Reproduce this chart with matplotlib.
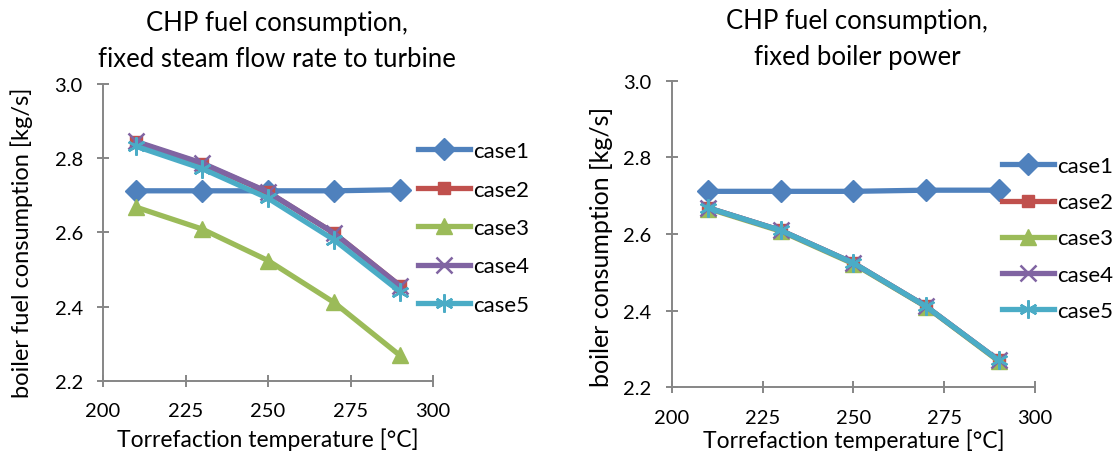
import matplotlib
matplotlib.use("Agg")
import matplotlib.pyplot as plt

plt.rcParams['font.family'] = ['Lato', 'DejaVu Sans']

temps = [210, 230, 250, 270, 290]
case_names = ["case1", "case2", "case3", "case4", "case5"]

left_values = {
    "case1": [2.712, 2.712, 2.712, 2.712, 2.715],
    "case2": [2.843, 2.785, 2.708, 2.598, 2.456],
    "case3": [2.668, 2.609, 2.524, 2.411, 2.268],
    "case4": [2.845, 2.787, 2.709, 2.598, 2.456],
    "case5": [2.832, 2.772, 2.692, 2.580, 2.440],
}
right_values = {
    "case1": [2.711, 2.711, 2.711, 2.714, 2.714],
    "case2": [2.668, 2.609, 2.524, 2.411, 2.270],
    "case3": [2.666, 2.607, 2.522, 2.410, 2.268],
    "case4": [2.668, 2.609, 2.524, 2.411, 2.270],
    "case5": [2.668, 2.609, 2.524, 2.411, 2.270],
}
titles = ["CHP fuel consumption,\nfixed steam flow rate to turbine",
          "CHP fuel consumption,\nfixed boiler power"]
ylabels = ["boiler fuel consumption [kg/s]", "boiler consumption [kg/s]"]
xlabel = "Torrefaction temperature [°C]"
xticks = [200, 225, 250, 275, 300]
yticks = [2.2, 2.4, 2.6, 2.8, 3.0]

colors = ["#4F81BD", "#C0504D", "#9BBB59", "#8064A2", "#4BACC6"]
markers = ["D", "s", "^", "x", (6, 2, 0)]
msizes = [11, 8.5, 12, 11, 13]

W, H = 1118, 452
fig = plt.figure(figsize=(W / 100, H / 100), dpi=100)
ax1 = fig.add_axes([103 / W, 1 - 381.7 / H, 330 / W, 296.7 / H])
ax2 = fig.add_axes([671.7 / W, 1 - 388.3 / H, 363.3 / W, 306.8 / H])

cfg = [
    dict(ax=ax1, vals=left_values, title=titles[0], ylabel=ylabels[0], ylsize=17,
         tx=277 / W, ty=1 - 67 / H, ylx=-0.212, yly=0.467, xly=-0.157,
         legx=418 / W, legy=1 - 229 / H, lspace=0.83),
    dict(ax=ax2, vals=right_values, title=titles[1], ylabel=ylabels[1], ylsize=18,
         tx=857 / W, ty=1 - 65 / H, ylx=-0.1616, yly=0.46, xly=-0.135,
         legx=1002 / W, legy=1 - 239.5 / H, lspace=0.73),
]

for c in cfg:
    ax = c["ax"]
    vals = c["vals"]
    for name, col, m, ms in zip(case_names, colors, markers, msizes):
        ax.plot(temps, vals[name], color=col, lw=3.8, marker=m, markersize=ms,
                markeredgecolor=col,
                markeredgewidth=1.8 if (m == "x" or isinstance(m, tuple)) else 1,
                label=name)
    ax.set_xlim(200, 300)
    ax.set_ylim(2.2, 3.0)
    ax.set_xticks(xticks)
    ax.set_yticks(yticks)
    ax.set_yticklabels([f"{v:.1f}" for v in yticks])
    for s in ["top", "right"]:
        ax.spines[s].set_visible(False)
    for s in ["left", "bottom"]:
        ax.spines[s].set_color("#868686")
        ax.spines[s].set_linewidth(1.4)
    ax.tick_params(direction="inout", length=9, width=1.4, color="#868686",
                   labelsize=14.5)
    ax.tick_params(axis="x", pad=11)
    ax.tick_params(axis="y", pad=10)
    ax.set_xlabel(xlabel, fontsize=16.5, va="top")
    ax.xaxis.set_label_coords(0.5, c["xly"])
    ax.set_ylabel(c["ylabel"], fontsize=c["ylsize"])
    ax.yaxis.set_label_coords(c["ylx"], c["yly"])
    fig.text(c["tx"], c["ty"], c["title"], fontsize=18.5, ha="center", va="baseline",
             multialignment="center", linespacing=1.55)
    ax.legend(loc="center left", bbox_to_anchor=(c["legx"], c["legy"]),
              bbox_transform=fig.transFigure, frameon=False, fontsize=16,
              handlelength=2.35, labelspacing=c["lspace"], handletextpad=0.15,
              borderaxespad=0, borderpad=0)

fig.savefig("out.png", dpi=100)
